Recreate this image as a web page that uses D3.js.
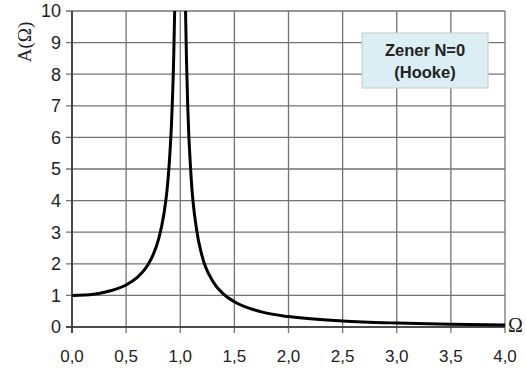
<!DOCTYPE html>
<html>
<head>
<meta charset="utf-8">
<script src="https://cdn.jsdelivr.net/npm/d3@7"></script>
<style>
  body { margin: 0; background: #fff; }
  svg { font-family: Arial, "Liberation Sans", sans-serif; }
</style>
</head>
<body>
<div id="chart"></div>
<script>
// values
var xTicks = [0, 0.5, 1, 1.5, 2, 2.5, 3, 3.5, 4];
var yTicks = [0, 1, 2, 3, 4, 5, 6, 7, 8, 9, 10];

// left of the resonance
var omegaLow = [0, 0.2, 0.3, 0.4, 0.5, 0.6, 0.7, 0.75, 0.8, 0.85, 0.88, 0.9, 0.92, 0.94, 0.95];
var ampLow   = [1.0, 1.04, 1.1, 1.19, 1.33, 1.56, 1.96, 2.29, 2.78, 3.6, 4.4, 5.26, 6.5, 8.6, 10.3];

// right of the resonance
var omegaHigh = [1.04, 1.05, 1.07, 1.1, 1.15, 1.2, 1.3, 1.4, 1.5, 1.75, 2.0, 2.5, 3.0, 3.5, 4.0];
var ampHigh   = [12.3, 9.8, 6.9, 4.76, 3.1, 2.27, 1.45, 1.04, 0.8, 0.48, 0.33, 0.19, 0.125, 0.09, 0.067];

var margin = {top: 11, right: 21, bottom: 43, left: 72};
var svgWidth = 526, svgHeight = 370;
var width = svgWidth - margin.left - margin.right;
var height = svgHeight - margin.top - margin.bottom;

var svg = d3.select('#chart').append('svg')
    .attr('width', svgWidth)
    .attr('height', svgHeight);

var g = svg.append('g')
    .attr('transform', 'translate(' + margin.left + ',' + margin.top + ')');

var x = d3.scaleLinear().domain([0, 4]).range([0, width]);
var y = d3.scaleLinear().domain([0, 10]).range([height, 0]);

var fmt = d => d3.format('.1f')(d).replace('.', ',');

// grid
g.selectAll('.vgrid').data(xTicks).enter().append('line')
    .attr('x1', d => x(d)).attr('x2', d => x(d))
    .attr('y1', 0).attr('y2', height + 6)
    .attr('stroke', '#737373').attr('stroke-width', 1.3);

g.selectAll('.hgrid').data(yTicks).enter().append('line')
    .attr('x1', -6).attr('x2', width)
    .attr('y1', d => y(d)).attr('y2', d => y(d))
    .attr('stroke', '#737373').attr('stroke-width', 1.3);

// axes lines
g.append('line').attr('x1', 0).attr('x2', 0).attr('y1', 0).attr('y2', height + 6)
    .attr('stroke', '#333').attr('stroke-width', 1.6);
g.append('line').attr('x1', -6).attr('x2', width).attr('y1', height).attr('y2', height)
    .attr('stroke', '#333').attr('stroke-width', 1.6);

// tick labels
g.selectAll('.ylab').data(yTicks).enter().append('text')
    .attr('x', -11).attr('y', d => y(d)).attr('dy', '0.36em')
    .attr('text-anchor', 'end')
    .attr('font-size', 18).attr('fill', '#222')
    .text(d => d);

g.selectAll('.xlab').data(xTicks).enter().append('text')
    .attr('x', d => x(d)).attr('y', height + 35)
    .attr('text-anchor', 'middle')
    .attr('font-size', 17).attr('fill', '#222')
    .text(fmt);

// axis titles
svg.append('text')
    .attr('transform', 'translate(31,42) rotate(-90)')
    .attr('text-anchor', 'middle')
    .attr('font-family', '"Times New Roman", "Liberation Serif", serif')
    .attr('font-size', 19).attr('fill', '#222')
    .text('A(Ω)');

svg.append('text')
    .attr('x', margin.left + width + 3).attr('y', margin.top + height + 5)
    .attr('font-family', '"Times New Roman", "Liberation Serif", serif')
    .attr('font-size', 20).attr('fill', '#222')
    .text('Ω');

// curve, clipped to the plot area
g.append('clipPath').attr('id', 'clip')
    .append('rect').attr('x', 0).attr('y', 0).attr('width', width).attr('height', height);

var line = d3.line()
    .x(d => x(d[0]))
    .y(d => y(d[1]))
    .curve(d3.curveMonotoneX);

[[omegaLow, ampLow], [omegaHigh, ampHigh]].forEach(function (s) {
    g.append('path')
        .datum(d3.zip(s[0], s[1]))
        .attr('clip-path', 'url(#clip)')
        .attr('fill', 'none')
        .attr('stroke', '#000')
        .attr('stroke-width', 3)
        .attr('d', line);
});

// legend box
var box = svg.append('g').attr('transform', 'translate(362,33)');
box.append('rect')
    .attr('width', 126).attr('height', 55)
    .attr('fill', '#dbeef4').attr('stroke', '#c8c8c8');
box.append('text')
    .attr('x', 63).attr('y', 23)
    .attr('text-anchor', 'middle')
    .attr('font-size', 16.5).attr('font-weight', 'bold').attr('fill', '#222')
    .text('Zener N=0');
box.append('text')
    .attr('x', 63).attr('y', 45)
    .attr('text-anchor', 'middle')
    .attr('font-size', 16.5).attr('font-weight', 'bold').attr('fill', '#222')
    .text('(Hooke)');
</script>
</body>
</html>
